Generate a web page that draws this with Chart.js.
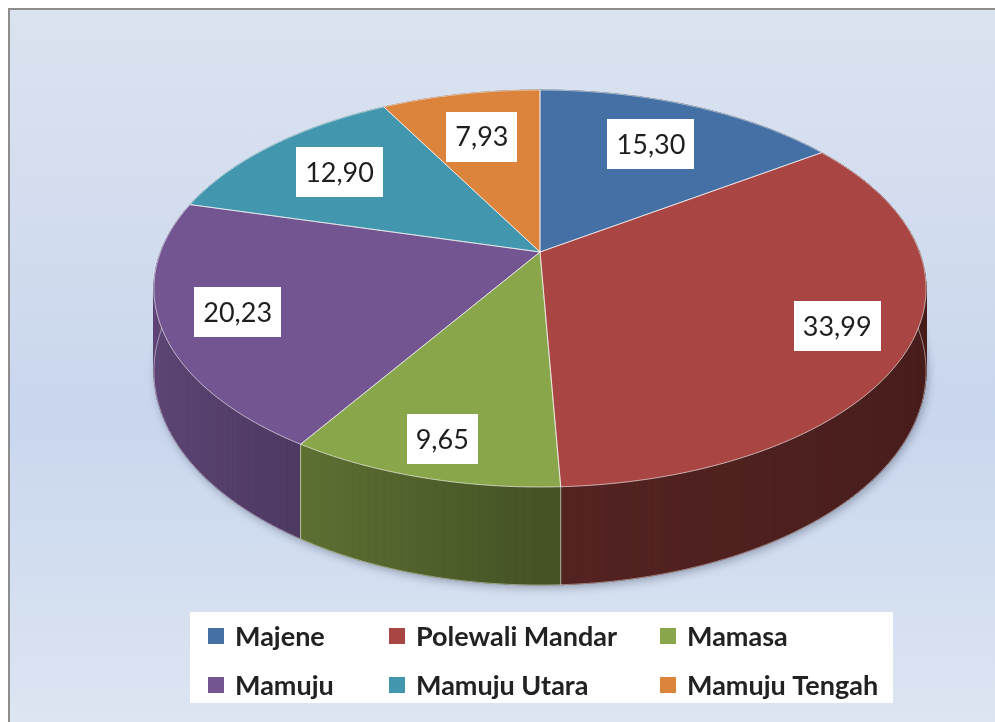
<!DOCTYPE html>
<html>
<head>
<meta charset="utf-8">
<script src="https://cdn.jsdelivr.net/npm/chart.js@4.4.1/dist/chart.umd.min.js"></script>
<style>
  html, body { margin: 0; padding: 0; background: #fff; width: 995px; height: 722px; overflow: hidden; }
  .frame {
    position: absolute; left: 8px; top: 8px; width: 1000px; height: 730px;
    border-left: 2px solid #8d8d8d; border-top: 2px solid #8d8d8d;
    background: linear-gradient(to bottom, #dbe3f0 0%, #cfdaee 40%, #c8d6ee 55%, #dee6f2 100%);
  }
  canvas { position: absolute; left: 0; top: 0; }
</style>
</head>
<body>
<div class="frame"></div>
<canvas id="pie" width="995" height="722"></canvas>
<script>
// Regions and their shares (%)
const regions = ['Majene', 'Polewali Mandar', 'Mamasa', 'Mamuju', 'Mamuju Utara', 'Mamuju Tengah'];
const shares = [15.30, 33.99, 9.65, 20.23, 12.90, 7.93];
const colors = ['#4470a6', '#a94643', '#8aa64b', '#735591', '#4297ae', '#dc843c'];

// perspective view of the pie disc
const view = { cx: 540, cy: 252, sx: 379.5, sy: 191.8, k: -0.1839, depth: 80 };

function proj(a, r) {
    const X = r * Math.cos(a), Y = r * Math.sin(a);
    const w = 1 / (1 + view.k * Y);
    return { x: view.cx + view.sx * X * w, y: view.cy + view.sy * Y * w, w };
}

function shade(hex, f) {
    const n = parseInt(hex.slice(1), 16);
    const r = Math.round(((n >> 16) & 255) * f), g = Math.round(((n >> 8) & 255) * f), b = Math.round((n & 255) * f);
    return `rgb(${r},${g},${b})`;
}

function wallFactor(X) {
    return X < 0 ? 0.5 - 0.33 * X : 0.5 - 0.08 * X;
}

const pie3d = {
    id: 'pie3d',
    beforeDatasetsDraw(chart) {
        const ctx = chart.ctx;
        const arcs = chart.getDatasetMeta(0).data;
        ctx.save();

        // bottom disc with soft shadow
        ctx.beginPath();
        for (let j = 0; j <= 360; j++) {
            const p = proj(j * Math.PI / 180, 1);
            const y = p.y + view.depth * p.w;
            j ? ctx.lineTo(p.x, y) : ctx.moveTo(p.x, y);
        }
        ctx.closePath();
        ctx.shadowColor = 'rgba(40,50,70,0.35)';
        ctx.shadowBlur = 8;
        ctx.shadowOffsetX = 2;
        ctx.shadowOffsetY = 3;
        ctx.fillStyle = '#3a2a2a';
        ctx.fill();
        ctx.shadowColor = 'transparent';

        // side walls, back to front
        const segs = [];
        arcs.forEach((arc, i) => {
            const a0 = arc.startAngle, a1 = arc.endAngle;
            const n = Math.max(2, Math.ceil((a1 - a0) / 0.02));
            for (let j = 0; j < n; j++) {
                const s = a0 + (a1 - a0) * j / n, e = a0 + (a1 - a0) * (j + 1) / n;
                segs.push({ s, e, m: (s + e) / 2, i });
            }
        });
        segs.sort((p, q) => Math.sin(p.m) - Math.sin(q.m));
        segs.forEach(sg => {
            const p1 = proj(sg.s, 1), p2 = proj(sg.e, 1);
            const col = shade(colors[sg.i], wallFactor(Math.cos(sg.m)));
            ctx.beginPath();
            ctx.moveTo(p1.x, p1.y);
            ctx.lineTo(p2.x, p2.y);
            ctx.lineTo(p2.x, p2.y + view.depth * p2.w);
            ctx.lineTo(p1.x, p1.y + view.depth * p1.w);
            ctx.closePath();
            ctx.fillStyle = col;
            ctx.strokeStyle = col;
            ctx.lineWidth = 1;
            ctx.fill();
            ctx.stroke();
        });

        // seams on the front wall
        ctx.strokeStyle = 'rgba(255,255,255,0.55)';
        ctx.lineWidth = 1;
        arcs.forEach(arc => {
            if (Math.sin(arc.startAngle) > 0.05) {
                const p = proj(arc.startAngle, 1);
                ctx.beginPath();
                ctx.moveTo(p.x, p.y);
                ctx.lineTo(p.x, p.y + view.depth * p.w);
                ctx.stroke();
            }
        });

        // bottom outline
        ctx.beginPath();
        for (let j = -12; j <= 192; j++) {
            const p = proj(j * Math.PI / 180, 1);
            const y = p.y + view.depth * p.w;
            j === -12 ? ctx.moveTo(p.x, y) : ctx.lineTo(p.x, y);
        }
        ctx.strokeStyle = 'rgba(255,255,255,0.45)';
        ctx.stroke();

        // top faces
        const paths = arcs.map((arc, i) => {
            const path = new Path2D();
            path.moveTo(view.cx, view.cy);
            const n = Math.max(2, Math.ceil((arc.endAngle - arc.startAngle) / 0.01));
            for (let j = 0; j <= n; j++) {
                const p = proj(arc.startAngle + (arc.endAngle - arc.startAngle) * j / n, 1);
                path.lineTo(p.x, p.y);
            }
            path.closePath();
            ctx.fillStyle = colors[i];
            ctx.fill(path);
            return path;
        });
        ctx.strokeStyle = 'rgba(255,255,255,0.6)';
        ctx.lineWidth = 1;
        paths.forEach(p => ctx.stroke(p));

        ctx.restore();
        return false;
    },
    afterDraw(chart) {
        const ctx = chart.ctx;
        const arcs = chart.getDatasetMeta(0).data;
        const values = chart.data.datasets[0].data;
        ctx.save();

        // value labels
        ctx.font = '27px Lato';
        ctx.textAlign = 'center';
        ctx.textBaseline = 'middle';
        arcs.forEach((arc, i) => {
            const m = (arc.startAngle + arc.endAngle) / 2;
            const edge = proj(m, 1);
            const t = 0.78 + 0.05 * Math.sin(m);
            const x = view.cx + (edge.x - view.cx) * t;
            const y = view.cy + (edge.y - view.cy) * t;
            const txt = values[i].toFixed(2).replace('.', ',');
            const bw = Math.round(ctx.measureText(txt).width + 18), bh = 50;
            ctx.fillStyle = '#fff';
            ctx.fillRect(Math.round(x - bw / 2), Math.round(y - bh / 2), bw, bh);
            ctx.fillStyle = '#1e1e1e';
            ctx.fillText(txt, x, y + 1);
        });

        // legend
        ctx.fillStyle = '#fff';
        ctx.fillRect(190, 612, 703, 91);
        const colX = [208, 389, 660], rowY = [636, 685];
        ctx.font = 'bold 27px Lato';
        ctx.textAlign = 'left';
        chart.data.labels.forEach((lab, i) => {
            const x = colX[i % 3], y = rowY[Math.floor(i / 3)];
            ctx.fillStyle = colors[i];
            ctx.fillRect(x, y - 8, 16, 16);
            ctx.fillStyle = '#222';
            ctx.fillText(lab, x + 27, y + 1);
        });
        ctx.restore();
    }
};

new Chart(document.getElementById('pie'), {
    type: 'pie',
    data: {
        labels: regions,
        datasets: [{ data: shares, backgroundColor: colors, borderWidth: 0 }]
    },
    options: {
        responsive: false,
        animation: false,
        devicePixelRatio: 1,
        events: [],
        plugins: { legend: { display: false }, tooltip: { enabled: false } }
    },
    plugins: [pie3d]
});
</script>
</body>
</html>
